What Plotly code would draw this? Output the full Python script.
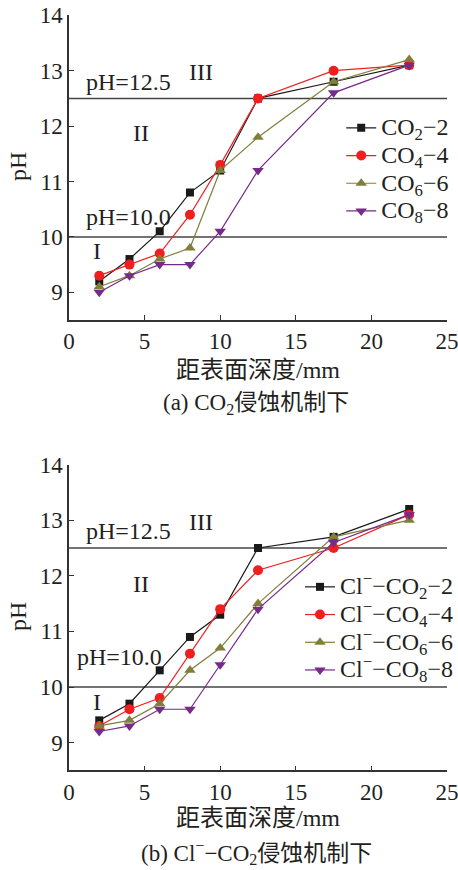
import plotly.graph_objects as go

# ---------------- data ----------------
depth = [2, 4, 6, 8, 10, 12.5, 17.5, 22.5]

names_a = ["CO<sub>2</sub>−2", "CO<sub>4</sub>−4", "CO<sub>6</sub>−6", "CO<sub>8</sub>−8"]
ph_a_2 = [9.2, 9.6, 10.1, 10.8, 11.2, 12.5, 12.8, 13.1]
ph_a_4 = [9.3, 9.5, 9.7, 10.4, 11.3, 12.5, 13.0, 13.1]
ph_a_6 = [9.1, 9.3, 9.6, 9.8, 11.2, 11.8, 12.8, 13.2]
ph_a_8 = [9.0, 9.3, 9.5, 9.5, 10.1, 11.2, 12.6, 13.1]

names_b = ["Cl<sup>−</sup>−CO<sub>2</sub>−2", "Cl<sup>−</sup>−CO<sub>4</sub>−4",
           "Cl<sup>−</sup>−CO<sub>6</sub>−6", "Cl<sup>−</sup>−CO<sub>8</sub>−8"]
ph_b_2 = [9.4, 9.7, 10.3, 10.9, 11.3, 12.5, 12.7, 13.2]
ph_b_4 = [9.3, 9.6, 9.8, 10.6, 11.4, 12.1, 12.5, 13.1]
ph_b_6 = [9.3, 9.4, 9.7, 10.3, 10.7, 11.5, 12.7, 13.0]
ph_b_8 = [9.2, 9.3, 9.6, 9.6, 10.4, 11.4, 12.6, 13.1]

x_ticks = [0, 5, 10, 15, 20, 25]
y_ticks = [9, 10, 11, 12, 13, 14]
thresholds = [10.0, 12.5]

# ---------------- styles ----------------
colors = ["#1a1a1a", "#f01e1e", "#7f7f3a", "#762a8a"]
symbols = ["square", "circle", "triangle-up", "triangle-down"]
msizes = [8, 10, 10, 10]
FONT = "Liberation Serif, Times New Roman, Noto Sans CJK SC, serif"
TXT = "#231f20"

def big(s):
    return f'<span style="font-size:24px">{s}</span>'

fig = go.Figure()

series_a = [ph_a_2, ph_a_4, ph_a_6, ph_a_8]
series_b = [ph_b_2, ph_b_4, ph_b_6, ph_b_8]

for i, ys in enumerate(series_a):
    fig.add_trace(go.Scatter(
        x=depth, y=ys, name=big(names_a[i]), mode="lines+markers",
        line=dict(color=colors[i], width=1.2),
        marker=dict(symbol=symbols[i], size=msizes[i], color=colors[i]),
        xaxis="x", yaxis="y", legend="legend"))

for i, ys in enumerate(series_b):
    fig.add_trace(go.Scatter(
        x=depth, y=ys, name=big(names_b[i]), mode="lines+markers",
        line=dict(color=colors[i], width=1.2),
        marker=dict(symbol=symbols[i], size=msizes[i], color=colors[i]),
        xaxis="x2", yaxis="y2", legend="legend2"))

xd = [69 / 458, 447 / 458]
yd_top = [1 - 320 / 870, 1 - 15.3 / 870]
yd_bot = [1 - 770.4 / 870, 1 - 464.6 / 870]

axis_common = dict(
    showline=True, linecolor="#333333", linewidth=1.5,
    ticks="inside", ticklen=5, tickwidth=1.2, tickcolor="#333333",
    showgrid=False, zeroline=False, mirror=False, automargin=False,
    ticklabeloverflow="allow",
    tickfont=dict(family=FONT, size=23, color=TXT),
)

fig.update_layout(
    template="none",
    width=458, height=870,
    margin=dict(l=0, r=0, t=0, b=0, pad=0),
    paper_bgcolor="white", plot_bgcolor="white",
    showlegend=True,
    xaxis=dict(domain=xd, anchor="y", range=[0, 25], tickvals=x_ticks, **axis_common),
    yaxis=dict(domain=yd_top, anchor="x", range=[8.5, 14], tickvals=y_ticks, **axis_common),
    xaxis2=dict(domain=xd, anchor="y2", range=[0, 25], tickvals=x_ticks, **axis_common),
    yaxis2=dict(domain=yd_bot, anchor="x2", range=[8.5, 14], tickvals=y_ticks, **axis_common),
    legend=dict(x=0.745, y=1 - 109 / 870, xanchor="left", yanchor="top",
                bgcolor="rgba(0,0,0,0)", font=dict(family=FONT, size=19, color=TXT),
                tracegroupgap=0, itemwidth=30),
    legend2=dict(x=0.655, y=1 - 568 / 870, xanchor="left", yanchor="top",
                 bgcolor="rgba(0,0,0,0)", font=dict(family=FONT, size=19, color=TXT),
                 tracegroupgap=0, itemwidth=30),
)

# threshold lines
for xr, yr in [("x", "y"), ("x2", "y2")]:
    for t in thresholds:
        fig.add_shape(type="line", xref=f"{xr} domain", yref=yr, x0=0, x1=1, y0=t, y1=t,
                      line=dict(color="#444444", width=1.5), layer="below")

def ann(text, x, y, xr, yr, xanchor="center", size=24):
    fig.add_annotation(text=text, x=x, y=y, xref=xr, yref=yr, showarrow=False,
                       xanchor=xanchor, yanchor="middle",
                       font=dict(family=FONT, size=size, color=TXT))

# region labels, top
ann("pH=12.5", 1.0, 12.8, "x", "y", xanchor="left")
ann("III", 8.73, 12.98, "x", "y")
ann("II", 4.73, 11.88, "x", "y")
ann("pH=10.0", 1.0, 10.36, "x", "y", xanchor="left")
ann("I", 1.85, 9.75, "x", "y")
# region labels, bottom
ann("pH=12.5", 1.0, 12.81, "x2", "y2", xanchor="left")
ann("III", 8.73, 12.97, "x2", "y2")
ann("II", 4.73, 11.85, "x2", "y2")
ann("pH=10.0", 0.4, 10.54, "x2", "y2", xanchor="left")
ann("I", 1.85, 9.73, "x2", "y2")

# axis titles and captions (paper coords)
def pann(text, px, py, size=24, angle=0):
    fig.add_annotation(text=text, x=px / 458, y=1 - py / 870, xref="paper", yref="paper",
                       showarrow=False, xanchor="center", yanchor="middle", textangle=angle,
                       font=dict(family=FONT, size=size, color=TXT))

pann("pH", 18, 167, angle=-90)
pann("pH", 18, 617, angle=-90)
pann("距表面深度/mm", 258, 370)
pann("距表面深度/mm", 258, 818)
pann("(a) CO<sub>2</sub>侵蚀机制下", 256, 404, size=23)
pann("(b) Cl<sup>−</sup>−CO<sub>2</sub>侵蚀机制下", 256, 852, size=23)

fig.write_html("out.html")
